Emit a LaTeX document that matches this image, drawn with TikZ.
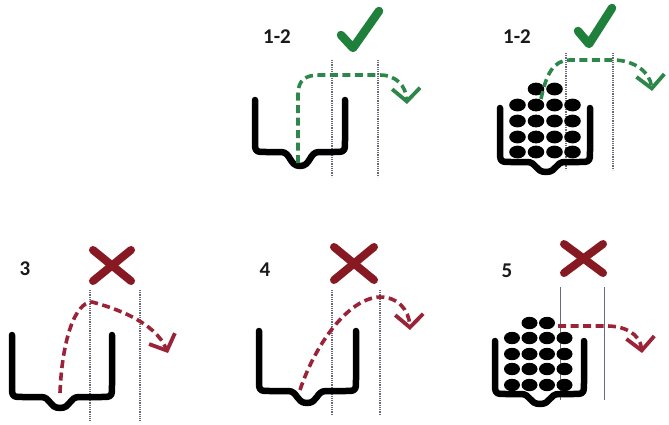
\documentclass[tikz,border=0pt]{standalone}
\usepackage{fontspec}
\setmainfont{Carlito}
\usetikzlibrary{arrows.meta}

\definecolor{okgreen}{RGB}{30,128,58}
\definecolor{okdash}{RGB}{45,135,75}
\definecolor{badred}{RGB}{135,25,35}
\definecolor{baddash}{RGB}{155,35,55}
\definecolor{guide}{RGB}{105,105,120}

\tikzset{
  cupline/.style={line width=6.5pt, line cap=round, line join=round},
  ball/.style={fill=black, draw=none},
  guideline/.style={guide, line width=1.2pt, dash pattern=on 1pt off 0.8pt},
  guidesolid/.style={guide, line width=1pt},
  checkmark/.style={okgreen, line width=8.5pt, line cap=round, line join=round},
  crossmark/.style={badred, line width=8pt, line cap=round},
  flight/.style={line width=3.6pt, dash pattern=on 8pt off 4.5pt,
    -{Straight Barb[length=13pt,width=28pt,line width=3.8pt]}},
  goodflight/.style={flight, okdash},
  badflight/.style={flight, baddash},
  caselabel/.style={font=\bfseries\fontsize{21}{21}\selectfont, text=black!90, inner sep=0pt},
}

% cup profile: left x, right x, rim y, floor y, bump centre x, bump floor y
\newcommand\drawcup[6]{%
  \draw[cupline] (#1,#3) -- (#1,#4-12) .. controls (#1,#4) .. (#1+12,#4)
    -- (#5-19,#4) .. controls (#5-9,#4) and (#5-11,#6) .. (#5,#6)
    .. controls (#5+11,#6) and (#5+9,#4) .. (#5+19,#4)
    -- (#2-12,#4) .. controls (#2,#4) .. (#2,#4-12) -- (#2,#3);}

\begin{document}
\begin{tikzpicture}[x=1pt,y=-1pt]
\useasboundingbox (0,0) rectangle (669,424);

% ---------- case 1-2, empty cup ----------
\node[caselabel] (lab1) at (277,37) {1-2};
\draw[checkmark] (341,35) -- (353,48) -- (379,11);
\draw[guideline] (332,60) -- (332,177);
\draw[guideline] (378,60) -- (378,177);
\drawcup{255}{345}{100}{152}{300}{166}
\coordinate (s1) at (298,163);
\coordinate (e1) at (407,104);
\draw[goodflight] (s1) -- (298,95) .. controls (298,80) and (305,75) .. (320,75)
  -- (380,75) .. controls (396,75) and (406,86) .. (e1);

% ---------- case 1-2, filled cup ----------
\node[caselabel] (lab2) at (517,37) {1-2};
\draw[checkmark] (578,31) -- (589,44) -- (612,8);
\draw[guideline] (566,53) -- (566,170);
\draw[guideline] (613,53) -- (613,170);
\drawcup{500}{590}{108}{162}{546}{172}
\foreach \x in {517.5,536,554.5,572.5}
  \foreach \y in {105,121,137,152}
    \fill[ball] (\x,\y) ellipse [x radius=8.3pt, y radius=6.4pt];
\fill[ball] (536,89) ellipse [x radius=8.3pt, y radius=6.4pt];
\fill[ball] (554.5,89) ellipse [x radius=8.3pt, y radius=6.4pt];
\coordinate (s2) at (541,99);
\coordinate (e2) at (652,91);
\draw[goodflight] (s2) .. controls (546,75) and (553,60) .. (570,60)
  -- (613,60) .. controls (634,60) and (650,72) .. (e2);

% ---------- case 3 ----------
\node[caselabel] (lab3) at (25,269) {3};
\draw[crossmark] (93,250) -- (131,281);
\draw[crossmark] (131,250) -- (93,281);
\draw[guideline] (90,290) -- (90,420);
\draw[guideline] (140,290) -- (140,420);
\drawcup{12}{112}{335}{397}{60}{408}
\coordinate (s3) at (60,393);
\coordinate (e3) at (168,353);
\draw[badflight] (s3) .. controls (62,340) and (75,302) .. (92,302)
  .. controls (115,308) and (155,322) .. (e3);

% ---------- case 4 ----------
\node[caselabel] (lab4) at (265,270) {4};
\draw[crossmark] (334,247) -- (374,280);
\draw[crossmark] (374,247) -- (334,280);
\draw[guideline] (332,290) -- (332,415);
\draw[guideline] (380,290) -- (380,415);
\drawcup{259}{356}{331}{391}{307}{403}
\coordinate (s4) at (300,390);
\coordinate (e4) at (410,330);
\draw[badflight] (s4) .. controls (315,345) and (348,298) .. (380,297)
  .. controls (398,297) and (409,310) .. (e4);

% ---------- case 5 ----------
\node[caselabel] (lab5) at (507,271) {5};
\draw[crossmark] (564,244) -- (603,273);
\draw[crossmark] (603,244) -- (564,273);
\draw[guidesolid] (560,287) -- (560,400);
\draw[guidesolid] (604,287) -- (604,400);
\drawcup{495}{584}{341}{394}{540}{404}
\foreach \x in {512,529.5,547,564.5}
  \foreach \y in {338,354,369,385}
    \fill[ball] (\x,\y) ellipse [x radius=8pt, y radius=6.2pt];
\fill[ball] (529.5,323) ellipse [x radius=8pt, y radius=6.2pt];
\fill[ball] (547,323) ellipse [x radius=8pt, y radius=6.2pt];
\coordinate (s5) at (558,326);
\coordinate (e5) at (642,353);
\draw[badflight] (s5) -- (607,326) .. controls (625,326) and (640,334) .. (e5);
\end{tikzpicture}
\end{document}
